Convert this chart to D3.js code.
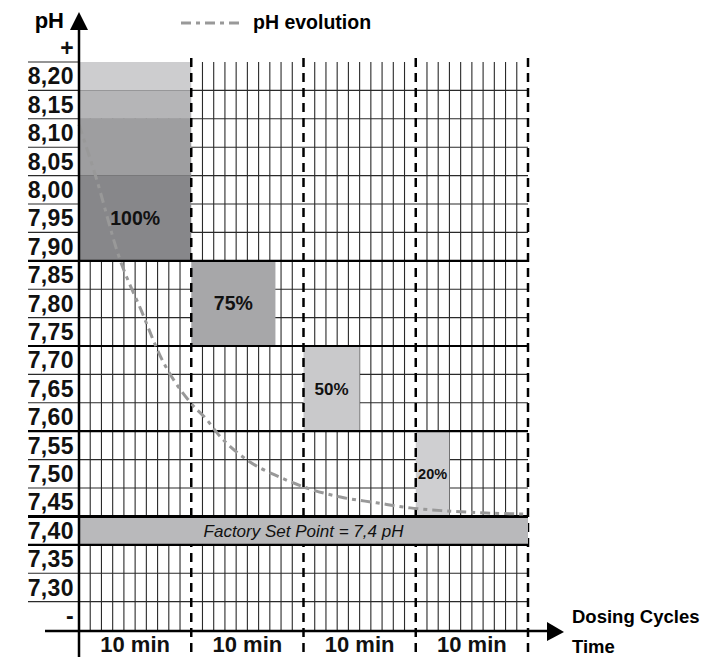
<!DOCTYPE html>
<html>
<head>
<meta charset="utf-8">
<script src="https://cdn.jsdelivr.net/npm/d3@7"></script>
<style>
  body { margin: 0; background: #fff; }
  text { font-family: "Liberation Sans", Arial, sans-serif; }
</style>
</head>
<body>
<div id="chart"></div>
<script>
// pH rows (label values), the "+" / "-" rows sit above and below
var phTicks = [8.20, 8.15, 8.10, 8.05, 8.00, 7.95, 7.90, 7.85, 7.80, 7.75,
               7.70, 7.65, 7.60, 7.55, 7.50, 7.45, 7.40, 7.35, 7.30]
var phPlus = 8.25
var phMinus = 7.25

// dosing cycles (minutes)
var cycleStart = [0, 10, 20, 30]
var cycleLabels = ['10 min', '10 min', '10 min', '10 min']
var doseLabels = ['100%', '75%', '50%', '20%']
var doseMinutes = [10, 7.5, 5, 3]
var doseTop = [8.225, 7.875, 7.725, 7.575]
var doseBottom = [7.875, 7.725, 7.575, 7.425]
var doseLabelPH = [7.95, 7.80, 7.65, 7.50]
var doseColors = ['#87878a', '#a7a7a9', '#c9c9cb', '#cfcfd1']
var doseFontSize = [19.5, 19.5, 17, 14.5]

// shading inside the 100% box
var shadeTop = [8.225, 8.175, 8.125, 8.025]
var shadeBottom = [8.175, 8.125, 8.025, 7.875]
var shadeColors = ['#cdcdcf', '#b5b5b7', '#9e9ea0', '#87878a']

// set point band
var setPoint = 7.40
var setPointLabel = 'Factory Set Point = 7,4 pH'

// pH evolution curve
var curveTime = [0, 1.5, 3.6, 5.6, 7.2, 9.9, 11.4, 12.3, 15, 17.9, 20.3, 23.3, 26.5, 29.5, 32.4, 36.3, 40]
var curvePH = [8.115, 8.023, 7.880, 7.785, 7.709, 7.626, 7.595, 7.572, 7.524, 7.494, 7.475, 7.459, 7.449, 7.440, 7.435, 7.431, 7.429]

var width = 701, height = 657
var svg = d3.select('#chart').append('svg')
    .attr('width', width)
    .attr('height', height)

var x = d3.scaleLinear().domain([0, 40]).range([79, 528])
var y = d3.scaleLinear().domain([8.225, 7.225]).range([62, 630])
var half = 0.025
var labelLeft = 28

// thin vertical grid, one column per minute
var minutes = d3.range(1, 40).filter(function(t) { return t % 10 !== 0 })
svg.append('g').selectAll('line')
    .data(minutes)
    .enter().append('line')
    .attr('x1', d => x(d)).attr('x2', d => x(d))
    .attr('y1', y(8.225)).attr('y2', y(7.225))
    .attr('stroke', '#2a2a2a')
    .attr('stroke-width', 1.1)

// thin row lines
var rowEdges = d3.range(0, 20).map(function(i) { return 8.225 - i * 0.05 })
svg.append('g').selectAll('line')
    .data(rowEdges)
    .enter().append('line')
    .attr('x1', labelLeft)
    .attr('x2', function(d, i) { return i === 0 ? x(0) : x(40) })
    .attr('y1', d => y(d)).attr('y2', d => y(d))
    .attr('stroke', '#2a2a2a')
    .attr('stroke-width', 1.1)

// 100% box shades
svg.append('g').selectAll('rect')
    .data(shadeTop)
    .enter().append('rect')
    .attr('x', x(0))
    .attr('width', x(10) - x(0))
    .attr('y', d => y(d))
    .attr('height', (d, i) => y(shadeBottom[i]) - y(d))
    .attr('fill', (d, i) => shadeColors[i])

// the other dosing boxes
svg.append('g').selectAll('rect')
    .data(cycleStart.slice(1))
    .enter().append('rect')
    .attr('x', d => x(d))
    .attr('width', (d, i) => x(d + doseMinutes[i + 1]) - x(d))
    .attr('y', (d, i) => y(doseTop[i + 1]))
    .attr('height', (d, i) => y(doseBottom[i + 1]) - y(doseTop[i + 1]))
    .attr('fill', (d, i) => doseColors[i + 1])

// dashed cycle separators
svg.append('g').selectAll('line')
    .data([10, 20, 30, 40])
    .enter().append('line')
    .attr('x1', d => x(d)).attr('x2', d => x(d))
    .attr('y1', 58).attr('y2', height)
    .attr('stroke', '#000')
    .attr('stroke-width', 2.5)
    .attr('stroke-dasharray', '9,6')

// set point band (covers the separators)
svg.append('rect')
    .attr('x', x(0))
    .attr('width', x(40) - x(0))
    .attr('y', y(setPoint + half))
    .attr('height', y(setPoint - half) - y(setPoint + half))
    .attr('fill', '#b9b9bb')

// thick lines every three rows
var majorEdges = [7.875, 7.725, 7.575, 7.425, 7.375]
svg.append('g').selectAll('line')
    .data(majorEdges)
    .enter().append('line')
    .attr('x1', labelLeft).attr('x2', x(40))
    .attr('y1', d => y(d)).attr('y2', d => y(d))
    .attr('stroke', '#000')
    .attr('stroke-width', (d, i) => i === 3 ? 3 : 2.2)

// pH evolution curve
var line = d3.line()
    .x(d => x(d[0]))
    .y(d => y(d[1]))
    .curve(d3.curveMonotoneX)
svg.append('path')
    .datum(curveTime.map((t, i) => [t, curvePH[i]]))
    .attr('d', line)
    .attr('fill', 'none')
    .attr('stroke', '#999')
    .attr('stroke-width', 3)
    .attr('stroke-dasharray', '10,5,4,5')

// dose labels
svg.append('g').selectAll('text')
    .data(doseLabels)
    .enter().append('text')
    .attr('x', (d, i) => (x(cycleStart[i]) + x(cycleStart[i] + doseMinutes[i])) / 2)
    .attr('y', (d, i) => y(doseLabelPH[i]))
    .attr('dy', '0.36em')
    .attr('text-anchor', 'middle')
    .style('font-weight', 'bold')
    .style('font-size', (d, i) => doseFontSize[i] + 'px')
    .style('fill', '#111')
    .text(d => d)

svg.append('text')
    .attr('x', (x(0) + x(40)) / 2)
    .attr('y', y(setPoint))
    .attr('dy', '0.36em')
    .attr('text-anchor', 'middle')
    .style('font-style', 'italic')
    .style('font-size', '17px')
    .style('fill', '#111')
    .text(setPointLabel)

// axes
svg.append('line')
    .attr('x1', 45).attr('x2', 550)
    .attr('y1', y(7.225) + 1).attr('y2', y(7.225) + 1)
    .attr('stroke', '#000').attr('stroke-width', 2.5)
svg.append('path')
    .attr('d', 'M547,622 L564,632 L547,641 Z')
    .attr('fill', '#000')
svg.append('line')
    .attr('x1', x(0)).attr('x2', x(0))
    .attr('y1', 26).attr('y2', height)
    .attr('stroke', '#000').attr('stroke-width', 2.5)
svg.append('path')
    .attr('d', 'M' + (x(0) - 9) + ',30 L' + x(0) + ',12 L' + (x(0) + 9) + ',30 Z')
    .attr('fill', '#000')

// y labels
var yLab = svg.append('g')
    .style('font-weight', 'bold')
    .style('font-size', '23px')
    .style('letter-spacing', '0.4px')
    .style('fill', '#111')
    .attr('text-anchor', 'end')
yLab.selectAll('text')
    .data(phTicks)
    .enter().append('text')
    .attr('x', 74)
    .attr('y', d => y(d))
    .attr('dy', '0.36em')
    .text(d => d.toFixed(2).replace('.', ','))
yLab.append('text')
    .attr('x', 74).attr('y', y(phPlus)).attr('dy', '0.36em')
    .text('+')
yLab.append('text')
    .attr('x', 74).attr('y', y(phMinus)).attr('dy', '0.36em')
    .text('-')

svg.append('text')
    .attr('x', 64).attr('y', 28)
    .attr('text-anchor', 'end')
    .style('font-weight', 'bold').style('font-size', '22px')
    .text('pH')

// x labels
svg.append('g').selectAll('text')
    .data(cycleLabels)
    .enter().append('text')
    .attr('x', (d, i) => x(cycleStart[i] + 5))
    .attr('y', 652)
    .attr('text-anchor', 'middle')
    .style('font-weight', 'bold').style('font-size', '22px')
    .style('fill', '#111')
    .text(d => d)

svg.append('text')
    .attr('x', 572).attr('y', 623)
    .style('font-weight', 'bold').style('font-size', '18.5px')
    .text('Dosing Cycles')
svg.append('text')
    .attr('x', 572).attr('y', 653)
    .style('font-weight', 'bold').style('font-size', '18.5px')
    .text('Time')

// legend
svg.append('line')
    .attr('x1', 181).attr('x2', 244)
    .attr('y1', 23).attr('y2', 23)
    .attr('stroke', '#999').attr('stroke-width', 3)
    .attr('stroke-dasharray', '10,5,4,5')
svg.append('text')
    .attr('x', 253).attr('y', 29)
    .style('font-weight', 'bold').style('font-size', '19.5px')
    .text('pH evolution')
</script>
</body>
</html>
